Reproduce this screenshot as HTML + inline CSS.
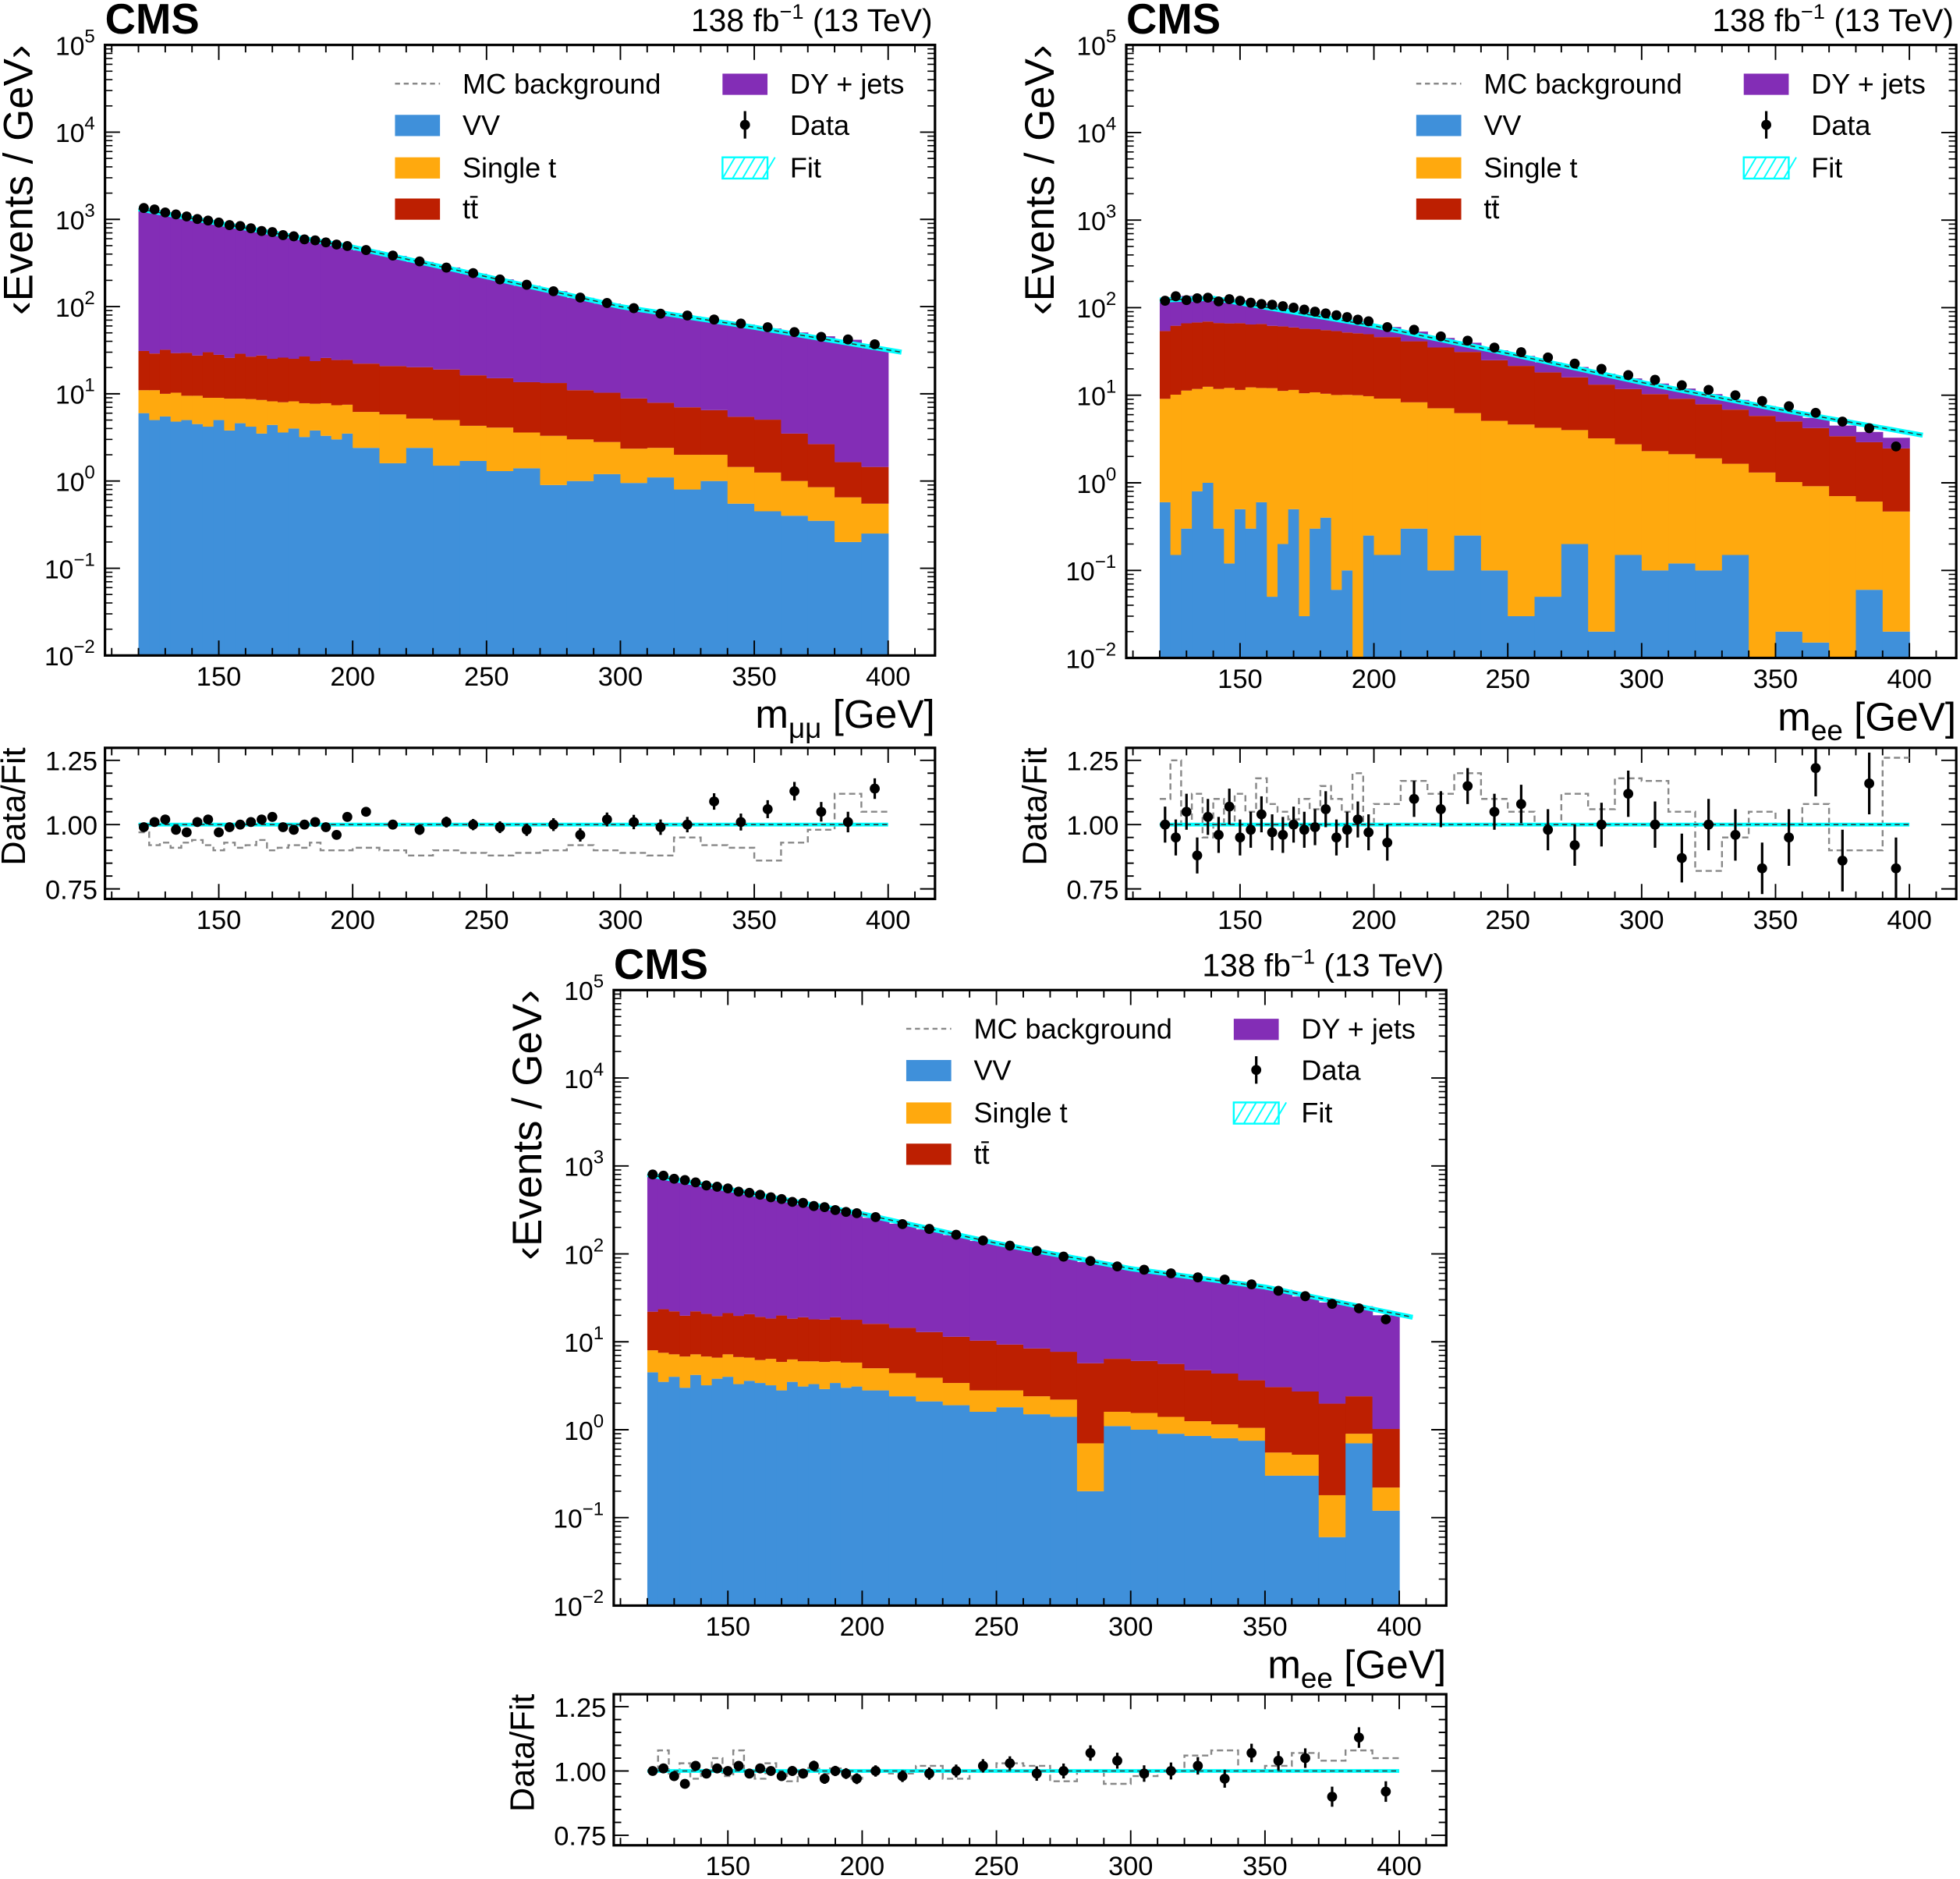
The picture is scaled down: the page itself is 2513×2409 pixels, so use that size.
<!DOCTYPE html>
<html><head><meta charset="utf-8">
<style>
html,body{margin:0;padding:0;background:#fff;}
svg{display:block;font-family:"Liberation Sans",Arial,sans-serif;}
</style></head>
<body>
<svg id="fig" width="2513" height="2409" viewBox="0 0 1568 1505" preserveAspectRatio="none" xmlns="http://www.w3.org/2000/svg"></svg>
<script>
// ---- shared binning (GeV) ----
const binEdges = [120,124,128,132,136,140,144,148,152,156,160,164,168,172,176,180,184,188,192,196,200,210,220,230,240,250,260,270,280,290,300,310,320,330,340,350,360,370,380,390,400];
const xTicks = [150,200,250,300,350,400];
const yDecades = [-2,-1,0,1,2,3,4,5];
const ratioTicks = [0.75,1.00,1.25];
const ratioTickLabels = ["0.75","1.00","1.25"];

// ---- panel 1: m_mumu ----
const mm_VV = [6,5,5.5,4.8,5,4.5,4.2,5,3.8,4.6,4.2,3.5,4.4,3.6,4,3.2,3.8,3.3,3,3.5, 2.4,1.6,2.4,1.5,1.7,1.3,1.4,0.9,1.0,1.2,0.95,1.1,0.8,1.0,0.55,0.45,0.4,0.35,0.2,0.25];
const mm_ST = [5,6,4.5,5.5,4.5,5,4.8,4,5,4.2,4.5,5,3.8,4.4,4.2,4.6,3.9,4.5,4.4,4, 3.8,4.2,2.8,3.5,2.6,2.8,2.2,2.4,2,1.6,1.4,1.3,1.2,1.0,0.9,0.8,0.6,0.5,0.45,0.3];
const mm_TT = [20,18,22,19,20,18,21,19,17,20,18,19,17,18,17,19,16,18,17,17, 16,15,15,14,12,11,10,10,8,7.5,6.5,5.5,5,4.5,4,3.8,2.5,1.8,1.0,0.9];
const mm_DY = [1280,1220,1140,1080,1030,980,920,870,830,790,740,700,670,630,590,560,530,510,470,450, 420,360,305,262,222,190,160,137,115,98,86,77,70,63,57,51,47,43,40,32];
const mm_data = [1350,1300,1200,1140,1080,1010,970,920,860,840,790,735,715,660,640,590,575,545,515,495, 445,385,330,280,242,205,178,150,127,110,96,83,79,71,64,58,51,45,42,37];
const mm_fitX = [120,200,250,300,350,405];
const mm_fitY = [1320,480,220,100,58,30];
const mm_ratio = [0.99,1.01,1.02,0.98,0.97,1.01,1.02,0.97,0.99,1.0,1.01,1.02,1.03,0.99,0.98,1.0,1.01,0.99,0.96,1.03, 1.05,1.0,0.98,1.01,1.0,0.99,0.98,1.0,0.96,1.02,1.01,0.99,1.0,1.09,1.01,1.06,1.13,1.05,1.01,1.14];
const mm_ratioErr = [0.012,0.012,0.012,0.012,0.013,0.013,0.013,0.013,0.014,0.014,0.014,0.015,0.015,0.015,0.016,0.016,0.016,0.017,0.017,0.017, 0.018,0.019,0.02,0.021,0.022,0.023,0.024,0.025,0.026,0.027,0.028,0.03,0.03,0.032,0.033,0.035,0.036,0.038,0.04,0.04];
const mm_mcRatio = [0.97,0.92,0.93,0.91,0.93,0.94,0.92,0.9,0.93,0.91,0.92,0.94,0.9,0.91,0.92,0.91,0.93,0.9,0.9,0.9, 0.91,0.9,0.88,0.9,0.89,0.88,0.89,0.9,0.92,0.9,0.89,0.88,0.95,0.92,0.91,0.86,0.93,0.98,1.12,1.05];

// ---- panel 2: m_ee (top right) ----
const ee1_VV = [0.6,0.15,0.3,0.8,1.0,0.3,0.12,0.5,0.3,0.6,0.05,0.2,0.5,0.03,0.3,0.4,0.06,0.1,0,0.25, 0.15,0.3,0.1,0.25,0.1,0.03,0.05,0.2,0.02,0.15,0.1,0.12,0.1,0.15,0.01,0.02,0.015,0.005,0.06,0.02];
const ee1_ST = [8.5,10,11,11,11.5,11.5,12,11,12,11.5,12,11,11,10.5,10.5,10,10,10,10,9.5, 9,8,7,6,5,4.6,4.2,3.8,3.2,2.6,2.2,2.0,1.8,1.5,1.3,1.0,0.9,0.7,0.55,0.45];
const ee1_TT = [45,52,55,56,57,55,54,55,52,53,50,50,48,47,46,45,44,42,41,40, 37,33,28,25,20,17,14,12,10,9,8,7,6,5.2,4.5,4,3.3,2.7,2.3,2.0];
const ee1_DY = [65,70,70,68,65,62,58,55,50,46,42,38,34,31,28,25,22,20,18,16, 14,12,10,8.5,7.5,6.5,5.5,5,4.4,3.8,3.3,2.8,2.4,2.0,1.7,1.5,1.3,1.1,0.9,0.8];
const ee1_data = [120,135,122,128,130,118,125,120,114,110,108,104,100,95,90,86,82,78,73,70, 60,56,47,42,35,31,27,23,20,17,15,13,11.5,10,8.6,7.5,6.3,5,4.2,2.6];
const ee1_fitX = [120,140,200,250,300,350,405];
const ee1_fitY = [122,128,62,30,14,7,3.5];
const ee1_ratio = [1.0,0.95,1.05,0.88,1.03,0.96,1.07,0.95,0.98,1.04,0.97,0.96,1.0,0.98,0.99,1.06,0.95,0.98,1.02,0.97, 0.93,1.10,1.06,1.15,1.05,1.08,0.98,0.92,1.0,1.12,1.0,0.87,1.0,0.96,0.83,0.95,1.22,0.86,1.16,0.83];
const ee1_ratioErr = [0.07,0.07,0.07,0.07,0.07,0.07,0.07,0.07,0.07,0.07,0.07,0.07,0.07,0.07,0.07,0.07,0.07,0.07,0.07,0.07, 0.07,0.07,0.07,0.07,0.07,0.075,0.08,0.08,0.085,0.09,0.09,0.095,0.1,0.1,0.1,0.11,0.11,0.12,0.12,0.12];
const ee1_mcRatio = [1.1,1.25,1.0,1.12,0.95,1.1,1.0,1.12,1.05,1.18,1.08,1.05,1.02,1.1,1.06,1.15,1.1,1.05,1.2,1.0, 1.08,1.17,1.12,1.2,1.1,1.05,1.0,1.12,1.06,1.18,1.17,1.05,0.82,0.95,1.05,1.0,1.08,0.9,0.9,1.26];

// ---- panel 3: m_ee (bottom) ----
const ee2_VV = [4.5,3.5,4,3,4.2,3.2,3.8,4,3.3,3.6,3.4,3.2,2.8,3.5,3.1,3.3,2.9,3.4,3.0,3.1, 2.8,2.4,2.1,1.9,1.6,1.8,1.5,1.4,0.2,1.1,1.0,0.9,0.85,0.8,0.75,0.3,0.3,0.06,0.7,0.12];
const ee2_ST = [3.5,4,3.2,3.8,3,3.6,2.8,3.2,3.4,3,2.8,3.2,3.1,2.8,2.9,2.7,3.0,2.6,2.8,2.7, 2.2,2.0,1.8,1.5,1.2,1.0,0.9,0.8,0.5,0.5,0.55,0.5,0.4,0.35,0.3,0.25,0.22,0.12,0.2,0.1];
const ee2_TT = [14,16,15,13,15,14,13,14,13,14,13,12,14,12,13,12,12,13,12,12, 11,10,9,8,7.5,6.5,6,5.5,5,4.8,4.5,4.2,3.5,3.2,2.6,2.5,2.2,1.8,1.5,0.8];
const ee2_DY = [768,736,688,660,623,584,555,528,495,469,446,420,395,376,356,337,317,302,282,272, 241,206,177,152,130,114,99,87,75,66,59,54,49,45,41,36,30,26,23,19];
const ee2_data = [800,775,715,690,650,600,580,555,510,495,470,440,420,390,380,350,340,315,300,290, 262,218,192,165,142,124,108,93,83,72,66,60,54,51,45,38,33,27,24,18];
const ee2_fitX = [120,200,250,300,350,405];
const ee2_fitY = [800,285,132,68,42,19];
const ee2_ratio = [1.0,1.01,0.98,0.95,1.02,0.99,1.01,1.0,1.02,0.99,1.01,1.0,0.98,1.0,0.99,1.02,0.97,1.0,0.99,0.97, 1.0,0.98,0.99,1.0,1.02,1.03,0.99,1.0,1.07,1.04,0.99,1.0,1.02,0.97,1.07,1.04,1.05,0.9,1.13,0.92];
const ee2_ratioErr = [0.015,0.015,0.015,0.015,0.016,0.016,0.016,0.017,0.017,0.017,0.018,0.018,0.018,0.019,0.019,0.02,0.02,0.02,0.021,0.021, 0.022,0.023,0.024,0.025,0.026,0.027,0.028,0.029,0.03,0.031,0.032,0.033,0.034,0.035,0.036,0.037,0.038,0.039,0.04,0.04];
const ee2_mcRatio = [1.0,1.08,0.98,1.03,0.97,1.0,1.05,0.98,1.08,0.99,0.97,1.03,1.0,0.96,0.98,1.02,0.99,1.01,1.0,0.97, 1.0,0.99,1.02,0.97,1.0,1.03,1.02,0.96,1.0,0.95,0.98,1.0,1.06,1.08,1.0,1.02,1.07,1.04,1.08,1.05];

const NS = "http://www.w3.org/2000/svg";
const svg = document.getElementById('fig');
function mk(tag, attrs, parent){
  const e = document.createElementNS(NS, tag);
  for (const k in attrs) e.setAttribute(k, attrs[k]);
  (parent||svg).appendChild(e);
  return e;
}
const COL = {VV:'#3f90da', ST:'#ffa90e', TT:'#bd1f01', DY:'#832db6'};

function drawPanel(P){
  const g = mk('g', {});
  
  
  const XMIN=107.5, XMAX=417.5;
  const sx = v => P.x0 + (v-XMIN)/(XMAX-XMIN)*(P.x1-P.x0);
  const sy = v => P.y1 - (Math.log10(v)+2)/7*(P.y1-P.y0);
  const RMIN=0.711, RMAX=1.2985;
  const ry = v => P.ry1 - (v-RMIN)/(RMAX-RMIN)*(P.ry1-P.ry0);
  const clipY = y => Math.max(P.y0, Math.min(P.y1, y));

  const comps = [['VV',P.VV],['ST',P.ST],['TT',P.TT],['DY',P.DY]];
  for (let i=0;i<binEdges.length-1;i++){
    let cum = 0.0;
    for (const [k,arr] of comps){
      const lo = cum; cum += arr[i];
      if (arr[i] <= 0) continue;
      const yb = lo>0 ? clipY(sy(lo)) : P.y1;
      const yt = clipY(sy(cum));
      if (yb-yt <= 0) continue;
      const r = mk('rect',{x:sx(binEdges[i]),y:yt,width:sx(binEdges[i+1])-sx(binEdges[i])+0.4,height:yb-yt,fill:COL[k]},g);
      
      
    }
  }
  let d='';
  P.fitX.forEach((x,i)=>{ d += (i?'L':'M')+sx(x)+' '+sy(P.fitY[i]); });
  const fit = mk('path',{d:d,fill:'none',stroke:'#00ffff','stroke-width':4},g);
  
  
  const fitd = mk('path',{d:d,fill:'none',stroke:'#333','stroke-width':1,'stroke-dasharray':'4 3'},g);
  
  
  for (let i=0;i<P.data.length;i++){
    const c = (binEdges[i]+binEdges[i+1])/2;
    const p = mk('circle',{cx:sx(c),cy:sy(P.data[i]),r:4,fill:'#000'},g);
    
    
  }
  const fr = mk('rect',{x:P.x0,y:P.y0,width:P.x1-P.x0,height:P.y1-P.y0,fill:'none',stroke:'#000','stroke-width':2},g);
  
  
  for (let v=110; v<=410; v+=10){
    const major = v%50===0;
    const L = major?12:6;
    const X = sx(v);
    for (const [t,b] of [[P.y0,P.y1],[P.ry0,P.ry1]]){
      mk('line',{x1:X,x2:X,y1:b,y2:b-L,stroke:'#000','stroke-width':1.2},g);
      mk('line',{x1:X,x2:X,y1:t,y2:t+L,stroke:'#000','stroke-width':1.2},g);
    }
  }
  xTicks.forEach(v=>{
    for (const yb of [P.y1,P.ry1]){
      const t = mk('text',{x:sx(v),y:yb+24,'font-size':21.5,'text-anchor':'middle'},g);
      t.textContent = v;
      
      
    }
  });
  yDecades.forEach(dd=>{
    const Y = sy(Math.pow(10,dd));
    mk('line',{x1:P.x0,x2:P.x0+12,y1:Y,y2:Y,stroke:'#000','stroke-width':1.2},g);
    mk('line',{x1:P.x1,x2:P.x1-12,y1:Y,y2:Y,stroke:'#000','stroke-width':1.2},g);
    if (dd<5){
      for (let m=2;m<10;m++){
        const Ym = sy(m*Math.pow(10,dd));
        mk('line',{x1:P.x0,x2:P.x0+6,y1:Ym,y2:Ym,stroke:'#000','stroke-width':1},g);
        mk('line',{x1:P.x1,x2:P.x1-6,y1:Ym,y2:Ym,stroke:'#000','stroke-width':1},g);
      }
    }
    const t = mk('text',{x:P.x0-8,y:Y+8,'font-size':21,'text-anchor':'end'},g);
    
    
    const ts = mk('tspan',{},t); ts.textContent='10';
    const ex = mk('tspan',{dy:-10,'font-size':15},t); ex.textContent = dd<0 ? '\u2212'+(-dd) : String(dd);
  });
  const yt = mk('text',{x:0,y:0,'font-size':33,'text-anchor':'end',transform:`translate(${P.x0-58},${P.y0}) rotate(-90)`},g);
  yt.textContent = '\u2039Events / GeV\u203A';
  
  
  const xt = mk('text',{x:P.x1,y:P.y1+58,'font-size':32,'text-anchor':'end'},g);
  
  
  const a = mk('tspan',{},xt); a.textContent='m';
  const b = mk('tspan',{dy:8,'font-size':23},xt); b.textContent=P.sub;
  const c = mk('tspan',{dy:-8},xt); c.textContent=' [GeV]';
  const cms = mk('text',{x:P.x0,y:P.y0-9,'font-size':34,'font-weight':'bold'},g);
  cms.textContent='CMS';
  
  
  const lu = mk('text',{x:P.x1-2,y:P.y0-11,'font-size':25.5,'text-anchor':'end'},g);
  
  
  const l1 = mk('tspan',{},lu); l1.textContent='138 fb';
  const l2 = mk('tspan',{dy:-10,'font-size':17},lu); l2.textContent='\u22121';
  const l3 = mk('tspan',{dy:10},lu); l3.textContent=' (13 TeV)';
  const lx = P.x1-432, lx2 = P.x1-170;
  const rows = [P.y0+31,P.y0+64,P.y0+98,P.y0+131];
  const leg = mk('g',{},g);
  
  
  mk('line',{x1:lx,x2:lx+36,y1:rows[0],y2:rows[0],stroke:'#888','stroke-width':1.5,'stroke-dasharray':'4 3'},leg);
  [['VV',1],['ST',2],['TT',3]].forEach(([k,i])=>{ mk('rect',{x:lx,y:rows[i]-8,width:36,height:17,fill:COL[k]},leg); });
  mk('rect',{x:lx2,y:rows[0]-8,width:36,height:17,fill:COL.DY},leg);
  mk('line',{x1:lx2+18,x2:lx2+18,y1:rows[1]-11,y2:rows[1]+11,stroke:'#000','stroke-width':2},leg);
  mk('circle',{cx:lx2+18,cy:rows[1],r:4,fill:'#000'},leg);
  mk('rect',{x:lx2,y:rows[2]-8,width:36,height:17,fill:'none',stroke:'#00ffff','stroke-width':1.5},leg);
  for (let h=0;h<5;h++) mk('line',{x1:lx2+h*8,y1:rows[2]+9,x2:lx2+h*8+10,y2:rows[2]-8,stroke:'#00ffff','stroke-width':1.2},leg);
  const labels = [['MC background',lx,0],['VV',lx,1],['Single t',lx,2],['t\u0074\u0304',lx,3],['DY + jets',lx2,0],['Data',lx2,1],['Fit',lx2,2]];
  labels.forEach(([s,x,i])=>{
    const t = mk('text',{x:x+54,y:rows[i]+8,'font-size':22.5},leg);
    t.textContent = s;
    
    
  });

  let rd='';
  for (let i=0;i<P.mcRatio.length;i++){
    const Y = ry(P.mcRatio[i]);
    rd += (i?'L':'M')+sx(binEdges[i])+' '+Y+'L'+sx(binEdges[i+1])+' '+Y;
  }
  const mcr = mk('path',{d:rd,fill:'none',stroke:'#888','stroke-width':1.5,'stroke-dasharray':'5 3'},g);
  
  
  const one = mk('line',{x1:sx(120),x2:sx(400),y1:ry(1),y2:ry(1),stroke:'#00ffff','stroke-width':3},g);
  
  
  mk('line',{x1:sx(120),x2:sx(400),y1:ry(1),y2:ry(1),stroke:'#333','stroke-width':1,'stroke-dasharray':'4 3'},g);
  for (let i=0;i<P.ratio.length;i++){
    const c = sx((binEdges[i]+binEdges[i+1])/2);
    const y1 = Math.max(P.ry0, ry(P.ratio[i]+P.ratioErr[i])), y2 = Math.min(P.ry1, ry(P.ratio[i]-P.ratioErr[i]));
    mk('line',{x1:c,x2:c,y1:y1,y2:y2,stroke:'#000','stroke-width':2},g);
    const p = mk('circle',{cx:c,cy:ry(P.ratio[i]),r:4,fill:'#000'},g);
    
    
  }
  const rf = mk('rect',{x:P.x0,y:P.ry0,width:P.x1-P.x0,height:P.ry1-P.ry0,fill:'none',stroke:'#000','stroke-width':2},g);
  
  
  for (let v=0.75; v<=1.2501; v+=0.05){
    const Y = ry(v); const major = Math.abs((v*4)-Math.round(v*4))<1e-6;
    const L = major?12:6;
    mk('line',{x1:P.x0,x2:P.x0+L,y1:Y,y2:Y,stroke:'#000','stroke-width':1.2},g);
    mk('line',{x1:P.x1,x2:P.x1-L,y1:Y,y2:Y,stroke:'#000','stroke-width':1.2},g);
  }
  ratioTicks.forEach((v,i)=>{
    const t = mk('text',{x:P.x0-6,y:ry(v)+8,'font-size':21.5,'text-anchor':'end'},g);
    t.textContent = ratioTickLabels[i];
    
    
  });
  const rt = mk('text',{x:0,y:0,'font-size':27,'text-anchor':'middle',transform:`translate(${P.x0-64},${P.ry0+47}) rotate(-90)`},g);
  rt.textContent='Data/Fit';
  
  
}

drawPanel({name:'panel-mumu',x0:84,x1:748,y0:36,y1:525,ry0:599,ry1:720,sub:'\u03BC\u03BC',
  VV:mm_VV,ST:mm_ST,TT:mm_TT,DY:mm_DY,data:mm_data,fitX:mm_fitX,fitY:mm_fitY,ratio:mm_ratio,ratioErr:mm_ratioErr,mcRatio:mm_mcRatio});
drawPanel({name:'panel-ee-top',x0:901,x1:1565,y0:36,y1:527,ry0:599,ry1:720,sub:'ee',
  VV:ee1_VV,ST:ee1_ST,TT:ee1_TT,DY:ee1_DY,data:ee1_data,fitX:ee1_fitX,fitY:ee1_fitY,ratio:ee1_ratio,ratioErr:ee1_ratioErr,mcRatio:ee1_mcRatio});
drawPanel({name:'panel-ee-bottom',x0:491,x1:1157,y0:793,y1:1286,ry0:1357,ry1:1478,sub:'ee',
  VV:ee2_VV,ST:ee2_ST,TT:ee2_TT,DY:ee2_DY,data:ee2_data,fitX:ee2_fitX,fitY:ee2_fitY,ratio:ee2_ratio,ratioErr:ee2_ratioErr,mcRatio:ee2_mcRatio});
</script>
</body></html>
